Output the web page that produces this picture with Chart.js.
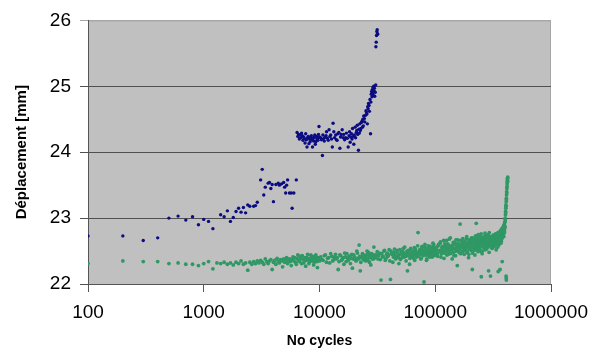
<!DOCTYPE html>
<html>
<head>
<meta charset="utf-8">
<script src="https://cdn.jsdelivr.net/npm/chart.js@4/dist/chart.umd.min.js"></script>
<style>
html,body{margin:0;padding:0;background:#fff;}
canvas{display:block;}
</style>
</head>
<body>
<canvas id="c" width="611" height="348" style="width:611px;height:348px"></canvas>
<script>
// ---- Tick labels ----
const xTickValues = [100, 1000, 10000, 100000, 1000000];
const yTickValues = [22, 23, 24, 25, 26];

// ---- Blue series (upper) ----
const blueCyclesA = [100,200,300,400,500,600,700,800,900,1000,1100,1200,
1400,1500,1600,1700,1800,1900,2000,2100,2200,2300,2400,2500,
2700,2800,2900,
3100,3200,3300,3400,
3600,3700,3800,3900,4000,
4200,4400,4500,4700,4900,5000,5100,5200,5300,
5500,5700,5800,6000,6300];
const blueDeplA = [22.73,22.73,22.66,22.70,23.00,23.03,22.97,23.02,22.90,22.98,22.95,22.84,
23.05,23.02,23.11,22.95,23.01,23.10,23.15,23.09,23.16,23.08,23.20,23.18,
23.18,23.19,23.24,
23.58,23.74,23.35,23.47,
23.53,23.54,23.45,23.51,23.25,
23.51,23.53,23.50,23.52,23.54,23.47,23.38,23.50,23.58,
23.38,23.38,23.15,23.38,23.58];

const blueCyclesB = [6400,6500,6600,6700,6800,6900,7000,7100,7200,7300,
7400,7500,7600,7700,7800,7900,8000,8100,8200,8300,
8400,8500,8600,8700,8800,8900,9000,9100,9200,9300,
9400,9500,9600,9700,9800,9900,10000,10200,10400,10600,
10700,10900,11000,11200,11400,11500,11700,11900,12100,12300,
12500,12700,12900,13100,13300,13500,13800,14000,14200,14400,
14700,15000,15200,15400,15700,16000,16200,16500,16800,17100,
17400,17700,18000,18200,18400,18600,18900,19100,19300,19600,
19800,20000,20300,20500,20800,21000,21200,21400,21700,21900,
22100,22300,22500,22800,23000,23300,23500,23700,23900,24100,
24400,24600,25000,25200,25400,25700,25900,26100,26300,26500,
26800,27000,27300,27600,27800,28000,28200,28400,28600,28800,
29000,29200,29400,29600,29800,30000,30300,30600,30700,30900,
31100,31300,31500,31700,31800];
const blueDeplB = [24.30,24.24,24.27,24.20,24.26,24.22,24.29,24.25,24.18,24.23,
24.21,24.14,24.28,24.19,24.08,24.22,24.24,24.13,24.20,24.16,
24.22,24.25,24.19,24.08,24.21,24.17,24.23,24.26,24.12,24.16,
24.24,24.20,24.21,24.18,24.27,24.39,24.23,24.22,24.19,23.95,
24.26,24.21,24.17,24.23,24.25,24.31,24.21,24.18,24.34,24.24,
24.26,24.20,24.08,24.44,24.31,24.22,24.26,24.19,24.18,24.28,
24.30,24.06,24.23,24.27,24.34,24.22,24.27,24.19,24.22,24.29,
24.21,24.08,24.25,24.31,24.15,24.23,24.28,24.20,24.36,24.24,
24.12,24.26,24.38,24.22,24.30,24.33,24.41,24.27,24.03,24.35,
24.29,24.43,24.33,24.36,24.45,24.47,24.38,24.50,24.40,24.55,
24.51,24.46,24.56,24.63,24.61,24.58,24.43,24.69,24.66,24.74,
24.71,24.62,24.80,24.28,24.76,24.88,24.92,24.84,24.95,24.90,
24.98,24.86,25.00,24.93,24.97,24.85,24.91,25.02,25.60,25.67,
25.77,25.83,25.86,25.80,25.79];

// ---- Green series (lower) ----
const greenCyclesA = [100,200,300,400,500,600,700,800,900,1000,1100,1200];
const greenDeplA = [22.31,22.35,22.34,22.34,22.31,22.32,22.30,22.30,22.28,22.31,22.34,22.23];

const greenCyclesB = [1300,1400,1500,1600,1700,1800,1900,2000,2100,2200,2300,2400,2500,2600,2700,2800,2900,3000,
3100,3200,3300,3400,3500,3600,3700,3800,3900,4000,
4100,4200,4300,4400,4500,4600,4700,4800,4900,5000,
5100,5200,5300,5400,5500,5600,5700,5800,5900,6000];
const greenDeplB = [22.32,22.31,22.33,22.30,22.32,22.29,22.33,22.31,22.35,22.30,22.32,22.21,22.33,22.30,22.34,22.31,22.35,22.32,
22.36,22.33,22.30,22.38,22.34,22.31,22.35,22.37,22.22,22.33,
22.36,22.30,22.39,22.34,22.32,22.37,22.35,22.26,22.38,22.33,
22.36,22.40,22.31,22.35,22.38,22.34,22.28,22.37,22.41,22.35];

const greenCyclesC = [6100,6200,6300,6400,6500,6600,6700,6800,6900,7000,
7100,7200,7300,7400,7500,7600,7700,7800,7900,8000,
8100,8200,8300,8400,8500,8600,8700,8800,8900,9000,
9100,9200,9300,9400,9500,9600,9700,9800,9900,10000];
const greenDeplC = [22.40,22.33,22.30,22.39,22.44,22.36,22.34,22.42,22.38,22.31,
22.43,22.38,22.32,22.35,22.40,22.27,22.36,22.40,22.45,22.37,
22.31,22.34,22.39,22.44,22.35,22.36,22.42,22.39,22.29,22.33,
22.37,22.41,22.44,22.37,22.34,22.25,22.40,22.38,22.36,22.35];

const greenCyclesD1 = [10500,11000,11500,12000,12500,13000,13500,14000,14500,15000,
15500,16000,16500,17000,17500,18000,18500,19000,19500,20000,
20500,21000,21500,22000,22500,23000,23500,24000,24500,25000,
25500,26000,26500,27000,27500,28000,28500,29000,29500,30000];
const greenDeplD1 = [22.37,22.43,22.33,22.40,22.46,22.35,22.41,22.38,22.22,22.44,
22.36,22.40,22.47,22.34,22.39,22.42,22.31,22.45,22.38,22.41,
22.36,22.50,22.39,22.59,22.20,22.40,22.46,22.37,22.42,22.35,
22.44,22.39,22.48,22.33,22.41,22.45,22.38,22.43,22.56,22.40];
const greenCyclesD2 = [10250,10750,11250,11750,12250,12750,13250,13750,14250,14750,
15250,15750,16250,16750,17250,17750,18250,18750,19250,19750,
20250,20750,21250,21750,22250,22750,23250,23750,24250,24750,
25250,25750,26250,26750,27250,27750,28250,28750,29250,29750];
const greenDeplD2 = [22.41,22.36,22.44,22.39,22.32,22.42,22.37,22.45,22.40,22.34,
22.43,22.38,22.30,22.41,22.46,22.36,22.42,22.39,22.24,22.44,
22.40,22.35,22.47,22.38,22.42,22.33,22.41,22.45,22.37,22.43,
22.39,22.50,22.36,22.44,22.41,22.29,22.46,22.40,22.38,22.44];

const greenCyclesE1 = [31000,32000,33000,34000,35000,36000,37000,38000,39000,40000,
41000,42000,43000,44000,45000,46000,47000,48000,49000,50000,
51000,52000,53000,54000,55000,56000,57000,58000,59000,60000,
61000,62000,63000,64000,65000,66000,67000,68000,69000,70000,
71000,72000,73000,74000,75000,76000,77000,78000,79000,80000,
81000,82000,83000,84000,85000,86000,87000,88000,89000,90000,
91000,92000,93000,94000,95000,96000,97000,98000,99000,100000];
const greenDeplE1 = [22.44,22.38,22.47,22.06,22.41,22.50,22.36,22.45,22.42,22.52,
22.07,22.46,22.33,22.48,22.43,22.40,22.51,22.40,22.45,22.37,
22.49,22.44,22.54,22.41,22.47,22.35,22.50,22.43,22.46,22.30,
22.52,22.42,22.48,22.45,22.39,22.55,22.44,22.49,22.41,22.47,
22.78,22.43,22.50,22.46,22.38,22.53,22.57,22.45,22.49,22.03,
22.56,22.47,22.51,22.36,22.48,22.44,22.58,22.46,22.50,22.42,
22.52,22.45,22.49,22.41,22.55,22.47,22.60,22.43,22.51,22.48];
const greenCyclesE2 = [30500,31500,32500,33500,34500,35500,36500,37500,38500,39500,
40500,41500,42500,43500,44500,45500,46500,47500,48500,49500,
50500,51500,52500,53500,54500,55500,56500,57500,58500,59500,
60500,61500,62500,63500,64500,65500,66500,67500,68500,69500,
70500,71500,72500,73500,74500,75500,76500,77500,78500,79500,
80500,81500,82500,83500,84500,85500,86500,87500,88500,89500,
90500,91500,92500,93500,94500,95500,96500,97500,98500,99500];
const greenDeplE2 = [22.40,22.49,22.43,22.37,22.46,22.42,22.51,22.39,22.47,22.44,
22.35,22.50,22.45,22.41,22.53,22.38,22.48,22.43,22.31,22.52,
22.46,22.40,22.49,22.44,22.56,22.42,22.47,22.20,22.51,22.45,
22.39,22.54,22.48,22.43,22.50,22.46,22.36,22.53,22.47,22.44,
22.58,22.42,22.49,22.52,22.45,22.39,22.55,22.48,22.43,22.51,
22.46,22.60,22.44,22.50,22.38,22.54,22.47,22.52,22.45,22.41,
22.57,22.49,22.53,22.44,22.50,22.62,22.46,22.55,22.48,22.52];

const greenCyclesF1 = [102000,104000,106000,108000,110000,112000,114000,116000,118000,120000,
122000,124000,126000,128000,130000,132000,134000,136000,138000,140000,
142000,144000,146000,148000,150000,152000,154000,156000,158000,160000,
162000,164000,166000,168000,170000,172000,174000,176000,178000,180000,
182000,184000,186000,188000,190000,192000,194000,196000,198000,200000,
202000,204000,206000,208000,210000,212000,214000,216000,218000,220000,
222000,224000,226000,228000,230000,232000,234000,236000,238000,240000,
242000,244000,246000,248000,250000,252000,254000,256000,258000,260000,
262000,264000,266000,268000,270000,272000,274000,276000,278000,280000,
282000,284000,286000,288000,290000,292000,294000,296000,298000,300000];
const greenDeplF1 = [22.52,22.45,22.58,22.49,22.62,22.41,22.55,22.50,22.66,22.47,
22.57,22.53,22.44,22.61,22.50,22.68,22.46,22.56,22.52,22.38,
22.59,22.48,22.63,22.54,22.43,22.60,22.51,22.67,22.49,22.57,
22.53,22.91,22.46,22.58,22.65,22.50,22.62,22.55,22.45,22.64,
22.52,22.59,22.69,22.48,22.56,22.61,22.40,22.66,22.54,22.58,
22.63,22.51,22.70,22.57,22.47,22.62,22.55,22.68,22.60,22.44,
22.66,22.58,22.92,22.71,22.56,22.63,22.49,22.60,22.67,22.54,
22.59,22.72,22.50,22.64,22.11,22.69,22.46,22.62,22.57,22.58,
22.65,22.55,22.70,22.61,22.52,22.67,22.59,22.73,22.53,22.64,
22.60,22.68,22.56,22.74,22.62,22.48,22.69,22.63,22.71,22.12];
const greenCyclesF2 = [101000,103000,105000,107000,109000,111000,113000,115000,117000,119000,
121000,123000,125000,127000,129000,131000,133000,135000,137000,139000,
141000,143000,145000,147000,149000,151000,153000,155000,157000,159000,
161000,163000,165000,167000,169000,171000,173000,175000,177000,179000,
181000,183000,185000,187000,189000,191000,193000,195000,197000,199000,
201000,203000,205000,207000,209000,211000,213000,215000,217000,219000,
221000,223000,225000,227000,229000,231000,233000,235000,237000,239000,
241000,243000,245000,247000,249000,251000,253000,255000,257000,259000,
261000,263000,265000,267000,269000,271000,273000,275000,277000,279000,
281000,283000,285000,287000,289000,291000,293000,295000,297000,299000];
const greenDeplF2 = [22.48,22.56,22.42,22.60,22.51,22.64,22.46,22.57,22.53,22.39,
22.61,22.49,22.66,22.55,22.45,22.59,22.52,22.70,22.47,22.58,
22.54,22.63,22.43,22.60,22.50,22.67,22.56,22.28,22.62,22.52,
22.58,22.47,22.66,22.55,22.61,22.49,22.69,22.57,22.63,22.51,
22.65,22.54,22.59,22.72,22.50,22.62,22.56,22.45,22.67,22.60,
22.53,22.68,22.58,22.64,22.22,22.70,22.57,22.62,22.51,22.66,
22.59,22.73,22.55,22.63,22.68,22.52,22.61,22.75,22.57,22.64,
22.70,22.53,22.66,22.60,22.76,22.58,22.65,22.50,22.69,22.62,
22.56,22.72,22.64,22.59,22.77,22.61,22.68,22.54,22.71,22.65,
22.58,22.74,22.63,22.69,22.20,22.66,22.78,22.60,22.72,22.67];

const greenCyclesG1 = [302000,304000,306000,308000,310000,312000,314000,316000,318000,320000,
322000,324000,326000,328000,330000,332000,334000,336000,338000,340000,
342000,344000,346000,348000,350000,352000,354000,356000,358000,360000,
362000,364000,366000,368000,370000,372000,374000,376000,378000,380000,
382000,384000,386000,388000,390000,392000,394000,396000,398000,400000];
const greenDeplG1 = [22.60,22.68,22.55,22.72,22.63,22.66,22.58,22.74,22.64,22.69,
22.57,22.73,22.65,22.70,22.61,22.76,22.67,22.52,22.72,22.68,
22.75,22.63,22.71,22.78,22.19,22.73,22.59,22.77,22.70,22.74,
22.80,22.68,22.76,22.72,22.82,22.65,22.78,22.74,22.84,22.71,
22.79,22.86,22.75,22.81,22.88,22.77,22.90,22.83,22.93,22.87];
const greenCyclesG2 = [301000,303000,305000,307000,309000,311000,313000,315000,317000,319000,
321000,323000,325000,327000,329000,331000,333000,335000,337000,339000,
341000,343000,345000,347000,349000,351000,353000,355000,357000,359000,
361000,363000,365000,367000,369000,371000,373000,375000,377000,379000,
381000,383000,385000,387000,389000,391000,393000,395000,397000,399000];
const greenDeplG2 = [22.65,22.58,22.70,22.62,22.67,22.54,22.71,22.64,22.60,22.73,
22.66,22.62,22.74,22.58,22.69,22.65,22.72,22.63,22.76,22.61,
22.69,22.74,22.66,22.56,22.72,22.68,22.77,22.64,22.73,22.70,
22.67,22.22,22.71,22.79,22.62,22.76,22.73,22.81,22.69,22.34,
22.74,22.83,22.76,22.80,22.85,22.72,22.82,22.89,22.79,22.86];

const greenCyclesSpike = [401000,402000,403000,404000,405000,406000,407000,408000,409000,410000,
411000,412000,413000,414000,415000,416000,417000,418000,419000,420000,
421000,422000,423000,409500,410500,411500];
const greenDeplSpike = [22.95,23.00,22.98,23.05,23.10,23.08,23.15,23.20,23.18,23.25,
23.30,23.28,23.35,23.40,23.38,23.45,23.48,23.52,23.55,23.58,
23.60,23.56,23.62,22.12,22.09,22.06];

function pairs(xs, ys) { return xs.map((x, i) => ({ x: x, y: ys[i] })); }

const blueData = [].concat(pairs(blueCyclesA, blueDeplA), pairs(blueCyclesB, blueDeplB));
const greenData = [].concat(
  pairs(greenCyclesA, greenDeplA), pairs(greenCyclesB, greenDeplB), pairs(greenCyclesC, greenDeplC),
  pairs(greenCyclesD1, greenDeplD1), pairs(greenCyclesD2, greenDeplD2),
  pairs(greenCyclesE1, greenDeplE1), pairs(greenCyclesE2, greenDeplE2),
  pairs(greenCyclesF1, greenDeplF1), pairs(greenCyclesF2, greenDeplF2),
  pairs(greenCyclesG1, greenDeplG1), pairs(greenCyclesG2, greenDeplG2),
  pairs(greenCyclesSpike, greenDeplSpike));

const FONT = "'Liberation Sans', Arial, sans-serif";

const plotBg = {
  id: 'plotBg',
  beforeDraw(chart) {
    const { ctx, chartArea: a } = chart;
    ctx.save();
    ctx.fillStyle = '#c0c0c0';
    ctx.fillRect(a.left, a.top, a.right - a.left, a.bottom - a.top);
    ctx.strokeStyle = '#a6a6a6';
    ctx.lineWidth = 1;
    ctx.beginPath();
    ctx.moveTo(a.left, a.top + 0.5);
    ctx.lineTo(a.right - 0.5, a.top + 0.5);
    ctx.lineTo(a.right - 0.5, a.bottom);
    ctx.stroke();
    ctx.restore();
  }
};

new Chart(document.getElementById('c'), {
  type: 'scatter',
  data: {
    datasets: [
      { label: 'A', data: blueData, backgroundColor: '#0b0b82', borderWidth: 0, pointRadius: 1.7, pointHoverRadius: 1.7 },
      { label: 'B', data: greenData, backgroundColor: '#2f9865', borderWidth: 0, pointRadius: 1.9, pointHoverRadius: 1.9 }
    ]
  },
  options: {
    responsive: false,
    animation: false,
    devicePixelRatio: 1,
    layout: { padding: { left: 0, right: 60, top: 20, bottom: 0 } },
    plugins: { legend: { display: false }, tooltip: { enabled: false } },
    events: [],
    scales: {
      x: {
        type: 'logarithmic',
        min: 100, max: 1000000,
        afterBuildTicks: (s) => { s.ticks = xTickValues.map(v => ({ value: v })); },
        afterFit: (s) => { s.height = 64; },
        ticks: {
          autoSkip: false, maxRotation: 0, padding: 9, color: '#000',
          font: { family: FONT, size: 19 },
          callback: (v) => String(v)
        },
        grid: { drawOnChartArea: false, drawTicks: true, tickLength: 8, color: '#555', lineWidth: 1 },
        border: { color: '#555', width: 1 },
        title: { display: true, text: 'No cycles', color: '#000', font: { family: FONT, size: 14, weight: 'bold' }, padding: { top: 0, bottom: -2 } }
      },
      y: {
        min: 22, max: 26,
        afterBuildTicks: (s) => { s.ticks = yTickValues.map(v => ({ value: v })); },
        afterFit: (s) => { s.width = 88; },
        ticks: { padding: 9, color: '#000', font: { family: FONT, size: 19 }, callback: (v) => String(v) },
        grid: {
          color: (c) => (c.tick && c.tick.value === 26) ? '#a6a6a6' : '#505050',
          lineWidth: 1, tickLength: 8
        },
        border: { color: '#555', width: 1 },
        title: { display: true, text: 'Déplacement [mm]', color: '#000', font: { family: FONT, size: 15, weight: 'bold' }, padding: { top: 13, bottom: 0 } }
      }
    }
  },
  plugins: [plotBg]
});
</script>
</body>
</html>
